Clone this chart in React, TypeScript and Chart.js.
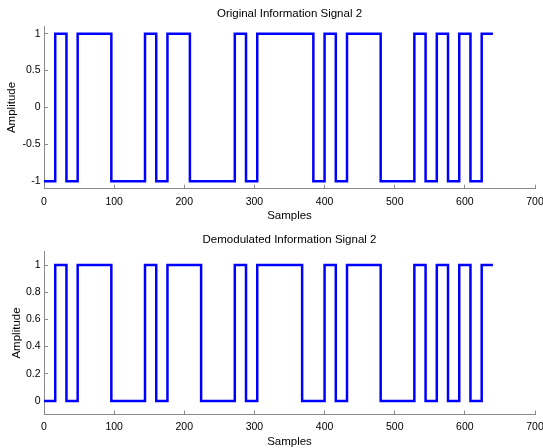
import React, { useEffect, useRef } from "react";
import { Chart, registerables } from "chart.js";

Chart.register(...registerables);

// Sample positions where the level changes, and the level held from each position
const topEdges = [0, 16, 32, 48, 96, 144, 160, 176, 208, 272, 288, 304, 384, 400, 416, 432, 480, 528, 544, 560, 576, 592, 608, 624, 640];
const topLevels = [-1, 1, -1, 1, -1, 1, -1, 1, -1, 1, -1, 1, -1, 1, -1, 1, -1, 1, -1, 1, -1, 1, -1, 1];
const bottomEdges = [0, 16, 32, 48, 96, 144, 160, 176, 224, 272, 288, 304, 368, 400, 416, 432, 480, 528, 544, 560, 576, 592, 608, 624, 640];
const bottomLevels = [0, 1, 0, 1, 0, 1, 0, 1, 0, 1, 0, 1, 0, 1, 0, 1, 0, 1, 0, 1, 0, 1, 0, 1];

const xTicks = [0, 100, 200, 300, 400, 500, 600, 700];
const topYTicks = [-1, -0.5, 0, 0.5, 1];
const bottomYTicks = [0, 0.2, 0.4, 0.6, 0.8, 1];

const topTitle = "Original Information Signal 2";
const bottomTitle = "Demodulated Information Signal 2";
const xLabel = "Samples";
const yLabel = "Amplitude";

const FONT = "'Liberation Sans', Arial, Helvetica, sans-serif";
const AXIS_COLOR = "#8a8a8a";

function toPoints(edges: number[], levels: number[]) {
  const pts = levels.map((y, i) => ({ x: edges[i], y }));
  pts.push({ x: edges[edges.length - 1], y: levels[levels.length - 1] });
  return pts;
}

type Params = {
  title: string;
  points: { x: number; y: number }[];
  yMin: number;
  yMax: number;
  yTicks: number[];
  titlePadTop: number;
  titlePadBottom: number;
  xAxisHeight: number;
  xTickPad: number;
  xTitlePadBottom: number;
  yTitlePadTop: number;
};

function makeConfig(p: Params): any {
  return {
    type: "line",
    data: {
      datasets: [
        {
          data: p.points,
          borderColor: "#0000ff",
          borderWidth: 2.5,
          pointRadius: 0,
          stepped: true,
          fill: false,
          tension: 0,
        },
      ],
    },
    options: {
      responsive: false,
      animation: false,
      devicePixelRatio: 1,
      layout: { padding: { left: 0, right: 25, top: 0, bottom: 0 } },
      plugins: {
        legend: { display: false },
        tooltip: { enabled: false },
        title: {
          display: true,
          fullSize: false,
          text: p.title,
          color: "#000",
          font: { family: FONT, size: 11.5, weight: "normal" },
          padding: { top: p.titlePadTop, bottom: p.titlePadBottom },
        },
      },
      scales: {
        x: {
          type: "linear",
          min: 0,
          max: 700,
          afterBuildTicks: (scale: any) => {
            scale.ticks = xTicks.map((v) => ({ value: v }));
          },
          afterFit: (scale: any) => {
            scale.height = p.xAxisHeight;
          },
          ticks: {
            color: "#000",
            font: { family: FONT, size: 10.5 },
            padding: p.xTickPad,
            autoSkip: false,
            maxRotation: 0,
            callback: (v: any) => String(v),
          },
          grid: {
            display: true,
            drawOnChartArea: false,
            drawTicks: true,
            tickLength: -4,
            color: AXIS_COLOR,
          },
          border: { display: true, color: AXIS_COLOR, width: 1 },
          title: {
            display: true,
            text: xLabel,
            color: "#000",
            font: { family: FONT, size: 11.5 },
            padding: { top: 0, bottom: p.xTitlePadBottom },
          },
        },
        y: {
          type: "linear",
          min: p.yMin,
          max: p.yMax,
          afterBuildTicks: (scale: any) => {
            scale.ticks = p.yTicks.map((v) => ({ value: v }));
          },
          afterFit: (scale: any) => {
            scale.width = 44;
          },
          ticks: {
            color: "#000",
            font: { family: FONT, size: 10.5 },
            padding: 7.5,
            autoSkip: false,
            callback: (v: any) => String(v),
          },
          grid: {
            display: true,
            drawOnChartArea: false,
            drawTicks: true,
            tickLength: -4,
            color: AXIS_COLOR,
          },
          border: { display: true, color: AXIS_COLOR, width: 1 },
          title: {
            display: true,
            text: yLabel,
            color: "#000",
            font: { family: FONT, size: 11.5 },
            padding: { top: p.yTitlePadTop, bottom: 0 },
          },
        },
      },
    },
  };
}

function Plot({ params, top }: { params: Params; top: number }) {
  const ref = useRef<HTMLCanvasElement | null>(null);
  useEffect(() => {
    if (!ref.current) return;
    const chart = new Chart(ref.current, makeConfig(params));
    return () => chart.destroy();
  }, []);
  return (
    <canvas
      ref={ref}
      width={560}
      height={224}
      style={{ position: "absolute", left: 0, top, width: 560, height: 224 }}
    />
  );
}

const topParams: Params = {
  title: topTitle,
  points: toPoints(topEdges, topLevels),
  yMin: -1.1,
  yMax: 1.1,
  yTicks: topYTicks,
  titlePadTop: 7,
  titlePadBottom: 5.5,
  xAxisHeight: 35.3,
  xTickPad: 11,
  xTitlePadBottom: 1.1,
  yTitlePadTop: 5.4,
};

const bottomParams: Params = {
  title: bottomTitle,
  points: toPoints(bottomEdges, bottomLevels),
  yMin: -0.1,
  yMax: 1.1,
  yTicks: bottomYTicks,
  titlePadTop: 6.8,
  titlePadBottom: 4.8,
  xAxisHeight: 35.4,
  xTickPad: 10,
  xTitlePadBottom: 0.8,
  yTitlePadTop: 9.6,
};

export default function App() {
  return (
    <div
      style={{
        position: "absolute",
        left: 0,
        top: 0,
        width: 543,
        height: 448,
        overflow: "hidden",
        background: "#fff",
      }}
    >
      <Plot params={topParams} top={0} />
      <Plot params={bottomParams} top={226} />
    </div>
  );
}
